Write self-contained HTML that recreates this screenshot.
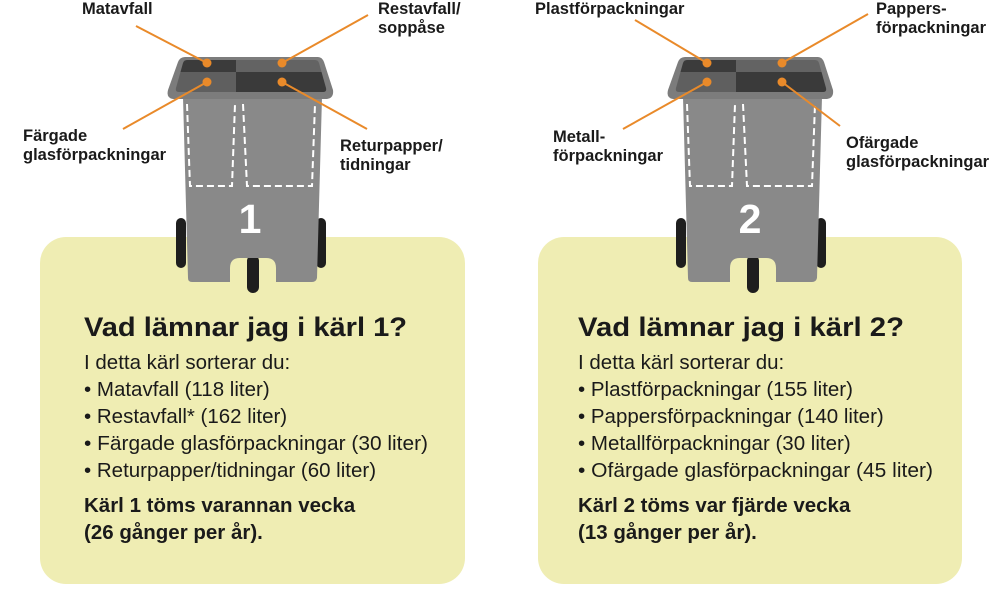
<!DOCTYPE html>
<html><head><meta charset="utf-8"><style>
html,body{margin:0;padding:0;background:#fff;}
svg{display:block;font-family:"Liberation Sans",sans-serif;}
.lbl{font-size:16.5px;font-weight:bold;fill:#1a1a1a;}
.h{font-size:27px;font-weight:bold;fill:#1a1a1a;}
.b{font-size:20.5px;fill:#1a1a1a;}
.bb{font-size:20.5px;font-weight:bold;fill:#1a1a1a;}
</style></head><body>
<svg width="1000" height="592" viewBox="0 0 1000 592">
<defs>
<g id="bin">
  <rect x="176" y="218" width="10" height="50" rx="5" fill="#1e1e1e"/>
  <rect x="316" y="218" width="10" height="50" rx="5" fill="#1e1e1e"/>
  <rect x="247" y="255" width="12" height="38" rx="6" fill="#1e1e1e"/>
  <path d="M183,97 L322,97 L317,278 Q316,282 312,282 L276,282 L276,268 Q276,258 266,258 L240,258 Q230,258 230,268 L230,282 L192,282 Q188,282 188,278 Z" fill="#898989"/>
  <path d="M185,57 L318,57 Q322,57 324,62 L333,90 Q334,98 327,99 L173,99 Q166,98 168,90 L178,62 Q180,57 185,57 Z" fill="#7c7c7c"/>
  <clipPath id="lidc"><path d="M187,60 L315,60 Q318,60 319,63 L326,88 Q327,92 323,92 L179,92 Q175,92 176,88 L183,63 Q184,60 187,60 Z"/></clipPath>
  <g clip-path="url(#lidc)">
    <rect x="170" y="58" width="66" height="14" fill="#3b3b3b"/>
    <rect x="236" y="58" width="95" height="14" fill="#636363"/>
    <rect x="170" y="72" width="66" height="22" fill="#5f5f5f"/>
    <rect x="236" y="72" width="95" height="22" fill="#3a3a3a"/>
  </g>
  <path d="M187,104 L190,186 L232,186 L235,104" fill="none" stroke="#fff" stroke-width="2" stroke-dasharray="7,4"/>
  <path d="M243,104 L247,186 L312,186 L315,104" fill="none" stroke="#fff" stroke-width="2" stroke-dasharray="7,4"/>
  <g fill="#e98a2a">
    <circle cx="207" cy="63" r="4.5"/><circle cx="282" cy="63" r="4.5"/>
    <circle cx="207" cy="82" r="4.5"/><circle cx="282" cy="82" r="4.5"/>
  </g>
</g>
</defs>

<rect x="40" y="237" width="425" height="347" rx="26" fill="#efedb3"/>
<rect x="538" y="237" width="424" height="347" rx="26" fill="#efedb3"/>

<use href="#bin"/>
<use href="#bin" transform="translate(500,0)"/>
<text x="250" y="233" text-anchor="middle" font-size="41" font-weight="bold" fill="#fff">1</text>
<text x="750" y="233" text-anchor="middle" font-size="41" font-weight="bold" fill="#fff">2</text>

<g stroke="#e98a2a" stroke-width="2" fill="none">
  <line x1="136" y1="26" x2="207" y2="63"/>
  <line x1="368" y1="15" x2="282" y2="63"/>
  <line x1="123" y1="129" x2="207" y2="82"/>
  <line x1="282" y1="82" x2="367" y2="129"/>
  <line x1="635" y1="20" x2="707" y2="63"/>
  <line x1="868" y1="14" x2="782" y2="63"/>
  <line x1="623" y1="129" x2="707" y2="82"/>
  <line x1="782" y1="82" x2="840" y2="126"/>
</g>

<text class="lbl" x="82" y="14">Matavfall</text>
<text class="lbl" x="378" y="14">Restavfall/</text>
<text class="lbl" x="378" y="33">soppåse</text>
<text class="lbl" x="23" y="141">Färgade</text>
<text class="lbl" x="23" y="160">glasförpackningar</text>
<text class="lbl" x="340" y="151">Returpapper/</text>
<text class="lbl" x="340" y="170">tidningar</text>

<text class="lbl" x="535" y="14">Plastförpackningar</text>
<text class="lbl" x="876" y="14">Pappers-</text>
<text class="lbl" x="876" y="33">förpackningar</text>
<text class="lbl" x="553" y="142">Metall-</text>
<text class="lbl" x="553" y="161">förpackningar</text>
<text class="lbl" x="846" y="148">Ofärgade</text>
<text class="lbl" x="846" y="167">glasförpackningar</text>

<text class="h" x="84" y="336" textLength="323" lengthAdjust="spacingAndGlyphs">Vad lämnar jag i kärl 1?</text>
<text class="b" x="84" y="369">I detta kärl sorterar du:</text>
<text class="b" x="84" y="396">• Matavfall (118 liter)</text>
<text class="b" x="84" y="423">• Restavfall* (162 liter)</text>
<text class="b" x="84" y="450" textLength="344" lengthAdjust="spacingAndGlyphs">• Färgade glasförpackningar (30 liter)</text>
<text class="b" x="84" y="477">• Returpapper/tidningar (60 liter)</text>
<text class="bb" x="84" y="512">Kärl 1 töms varannan vecka</text>
<text class="bb" x="84" y="539">(26 gånger per år).</text>

<text class="h" x="578" y="336" textLength="326" lengthAdjust="spacingAndGlyphs">Vad lämnar jag i kärl 2?</text>
<text class="b" x="578" y="369">I detta kärl sorterar du:</text>
<text class="b" x="578" y="396">• Plastförpackningar (155 liter)</text>
<text class="b" x="578" y="423">• Pappersförpackningar (140 liter)</text>
<text class="b" x="578" y="450">• Metallförpackningar (30 liter)</text>
<text class="b" x="578" y="477" textLength="355" lengthAdjust="spacingAndGlyphs">• Ofärgade glasförpackningar (45 liter)</text>
<text class="bb" x="578" y="512">Kärl 2 töms var fjärde vecka</text>
<text class="bb" x="578" y="539">(13 gånger per år).</text>
</svg>
</body></html>
